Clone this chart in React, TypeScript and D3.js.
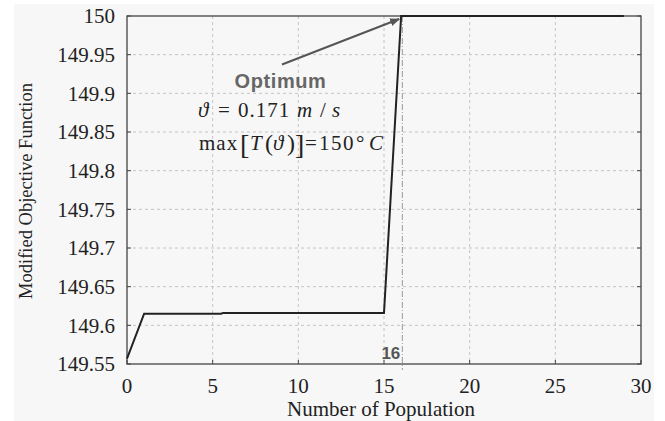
import React, { useEffect, useRef } from 'react'
import * as d3 from 'd3'

const population = [0, 1, 5.5, 5.6, 15, 16, 29]
const objective = [149.557, 149.615, 149.615, 149.616, 149.616, 150, 150]
const xTicks = [0, 5, 10, 15, 20, 25, 30]
const yTicks = [149.55, 149.6, 149.65, 149.7, 149.75, 149.8, 149.85, 149.9, 149.95, 150]
const optimumX = 16.07

const W = 665
const H = 421
const serif = 'Liberation Serif, Times New Roman, Times, serif'
const sans = 'Liberation Sans, Arial, Helvetica, sans-serif'

// formula pieces: text, x, baseline shift, size, italic, letter spacing
type Piece = [string, number, number, number, boolean, number]
const line1: Piece[] = [
  ['ϑ', 198, 0, 21, true, 0],
  ['=', 218, 0, 21, false, 0],
  ['0.171', 238, 0, 21, false, 1],
  ['m', 297, 0, 21, true, 0],
  ['/', 320, 0, 21, false, 0],
  ['s', 332, 0, 21, true, 0],
]
const line2: Piece[] = [
  ['max', 199, 0, 21, false, 1],
  ['[', 240, 4, 28, false, 0],
  ['T', 250, 0, 21, true, 0],
  ['(', 265, 1, 24, false, 0],
  ['ϑ', 273, 0, 21, true, 0],
  [')', 287, 1, 24, false, 0],
  [']', 295, 4, 28, false, 0],
  ['=', 305, 0, 21, false, 0],
  ['150', 319, 0, 21, false, 1.5],
  ['°', 356, 0, 21, false, 0],
  ['C', 369, 0, 21, true, 0],
]

const Chart = () => {
  const ref = useRef<SVGSVGElement>(null)

  useEffect(() => {
    const svg = d3.select(ref.current)
    svg.selectAll('*').remove()

    const margin = { top: 16, right: 24, bottom: 57, left: 127 }
    const x = d3.scaleLinear().domain([0, 30]).range([margin.left, W - margin.right])
    const y = d3.scaleLinear().domain([149.55, 150]).range([H - margin.bottom, margin.top])
    const [x0, x1] = x.range()
    const [y0, y1] = y.range()

    svg // background
      .append('rect')
      .attr('x', 14)
      .attr('y', 4)
      .attr('width', 640)
      .attr('height', H - 4)
      .attr('fill', '#f7f7f7')

    svg // vertical grid
      .append('g')
      .selectAll('line')
      .data(xTicks.slice(1, -1))
      .join('line')
      .attr('x1', d => x(d))
      .attr('x2', d => x(d))
      .attr('y1', y1)
      .attr('y2', y0)
      .attr('stroke', '#c4c4c4')
      .attr('stroke-dasharray', '3,3')

    svg // horizontal grid
      .append('g')
      .selectAll('line')
      .data(yTicks.slice(1, -1))
      .join('line')
      .attr('x1', x0)
      .attr('x2', x1)
      .attr('y1', d => y(d))
      .attr('y2', d => y(d))
      .attr('stroke', '#c4c4c4')
      .attr('stroke-dasharray', '3,3')

    svg // inner ticks, left and right
      .append('g')
      .selectAll('path')
      .data(yTicks)
      .join('path')
      .attr('d', d => `M${x0},${y(d)}h4M${x1 - 4},${y(d)}h4`)
      .attr('stroke', '#444')

    svg // inner ticks, bottom
      .append('g')
      .selectAll('path')
      .data(xTicks)
      .join('path')
      .attr('d', d => `M${x(d)},${y0}v-4`)
      .attr('stroke', '#444')

    svg // optimum marker line
      .append('line')
      .attr('x1', x(optimumX))
      .attr('x2', x(optimumX))
      .attr('y1', y1)
      .attr('y2', y0 + 6)
      .attr('stroke', '#999')
      .attr('stroke-dasharray', '6,2,1,2')

    svg // frame
      .append('rect')
      .attr('x', x0)
      .attr('y', y1)
      .attr('width', x1 - x0)
      .attr('height', y0 - y1)
      .attr('fill', 'none')
      .attr('stroke', '#444')
      .attr('stroke-width', 1.3)

    const line = d3
      .line<number>()
      .x(d => x(d))
      .y((d, i) => y(objective[i]))

    svg // data line
      .append('path')
      .datum(population)
      .attr('d', line)
      .attr('fill', 'none')
      .attr('stroke', '#222')
      .attr('stroke-width', 2)

    svg // x tick labels
      .append('g')
      .style('font-family', serif)
      .attr('font-size', 21)
      .attr('fill', '#222')
      .attr('text-anchor', 'middle')
      .selectAll('text')
      .data(xTicks)
      .join('text')
      .attr('x', d => x(d))
      .attr('y', y0 + 29)
      .text(d => d)

    svg // y tick labels
      .append('g')
      .style('font-family', serif)
      .attr('font-size', 21)
      .attr('fill', '#222')
      .attr('text-anchor', 'end')
      .selectAll('text')
      .data(yTicks)
      .join('text')
      .attr('x', x0 - 12)
      .attr('y', d => y(d))
      .attr('dy', '0.35em')
      .text(d => String(+d.toFixed(2)))

    svg // x title
      .append('text')
      .attr('x', (x0 + x1) / 2 - 3)
      .attr('y', 416)
      .attr('text-anchor', 'middle')
      .style('font-family', serif)
      .attr('font-size', 21)
      .attr('fill', '#222')
      .text('Number of Population')

    svg // y title
      .append('text')
      .attr('transform', `translate(32, ${(y0 + y1) / 2 + 1}) rotate(-90)`)
      .attr('text-anchor', 'middle')
      .style('font-family', serif)
      .attr('font-size', 18.5)
      .attr('fill', '#222')
      .text('Modified Objective Function')

    svg // "16" label
      .append('text')
      .attr('x', x(optimumX) - 2)
      .attr('y', y0 - 5)
      .attr('text-anchor', 'end')
      .style('font-family', sans)
      .attr('font-weight', 'bold')
      .attr('font-size', 17)
      .attr('fill', '#555')
      .text('16')

    // annotation arrow
    svg
      .append('defs')
      .append('marker')
      .attr('id', 'arrow')
      .attr('viewBox', '0 0 10 10')
      .attr('refX', 9)
      .attr('refY', 5)
      .attr('markerWidth', 5)
      .attr('markerHeight', 5)
      .attr('orient', 'auto')
      .append('path')
      .attr('d', 'M0,1 L10,5 L0,9 Z')
      .attr('fill', '#555')

    svg
      .append('line')
      .attr('x1', 282)
      .attr('y1', 64.5)
      .attr('x2', x(16) - 2)
      .attr('y2', y(150) + 3)
      .attr('stroke', '#555')
      .attr('stroke-width', 2)
      .attr('marker-end', 'url(#arrow)')

    svg
      .append('text')
      .attr('x', 280.5)
      .attr('y', 88)
      .attr('text-anchor', 'middle')
      .style('font-family', sans)
      .attr('font-weight', 'bold')
      .attr('font-size', 20)
      .attr('letter-spacing', 0.6)
      .attr('fill', '#666')
      .text('Optimum')

    const formula = (pieces: Piece[], base: number) => {
      const t = svg.append('text').style('font-family', serif).attr('fill', '#222')
      t.selectAll('tspan')
        .data(pieces)
        .join('tspan')
        .attr('x', d => d[1])
        .attr('y', d => base + d[2])
        .attr('font-size', d => d[3])
        .attr('font-style', d => (d[4] ? 'italic' : 'normal'))
        .attr('letter-spacing', d => d[5])
        .text(d => d[0])
    }
    formula(line1, 117)
    formula(line2, 150)
  }, [])

  return <svg width={W} height={H} ref={ref} style={{ display: 'block' }} />
}

export default function App() {
  return (
    <div style={{ position: 'absolute', left: 0, top: 0 }}>
      <Chart />
    </div>
  )
}
